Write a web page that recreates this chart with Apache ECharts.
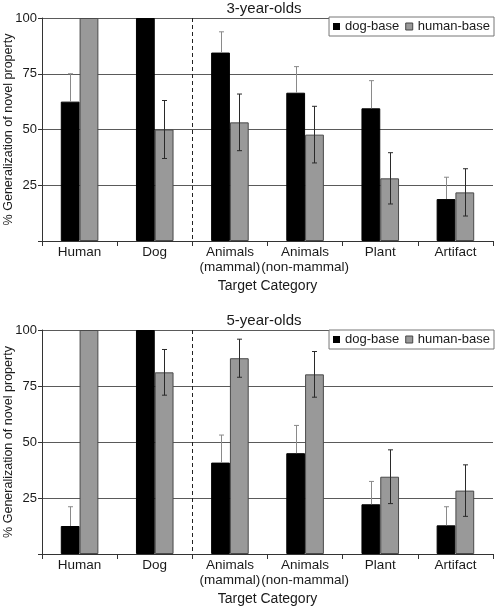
<!DOCTYPE html>
<html>
<head>
<meta charset="utf-8">
<script src="https://cdn.jsdelivr.net/npm/echarts@6/dist/echarts.min.js"></script>
<style>
html,body{margin:0;padding:0;background:#fff;}
#chart{width:496px;height:610px;}
</style>
</head>
<body>
<div id="chart"></div>
<script>
const categories = ['Human', 'Dog', 'Animals\n(mammal)', 'Animals\n(non-mammal)', 'Plant', 'Artifact'];
const panelTitles = ['3-year-olds', '5-year-olds'];
const seriesNames = ['dog-base', 'human-base'];
const yTicks = [0, 25, 50, 75, 100];
const dividerAfter = 1; // boundary after "Dog"

const dog3 = [62.5, 100, 84.5, 66.5, 59.5, 18.8];
const dog3Err = [12.5, 0, 9.3, 11.7, 12.4, 9.8];
const human3 = [100, 50, 53.2, 47.7, 28.1, 21.8];
const human3Err = [0, 13, 12.7, 12.7, 11.5, 10.6];

const dog5 = [12.5, 100, 40.8, 45, 22.2, 12.8];
const dog5Err = [8.6, 0, 12.3, 12.4, 10.2, 8.3];
const human5 = [100, 81.1, 87.4, 80.2, 34.5, 28.3];
const human5Err = [0, 10.2, 8.5, 10.2, 12, 11.5];

const panels = [
  {dog: dog3, dogErr: dog3Err, human: human3, humanErr: human3Err},
  {dog: dog5, dogErr: dog5Err, human: human5, humanErr: human5Err}
];

const chart = echarts.init(document.getElementById('chart'), null, {renderer: 'canvas'});
const FONT = 'Liberation Sans, Arial, sans-serif';
const TXT = '#1a1a1a';

const grids = [
  {left: 42, right: 3, top: 18, height: 223, containLabel: false, outerBoundsMode: 'none'},
  {left: 42, right: 3, top: 330, height: 224, containLabel: false, outerBoundsMode: 'none'}
];

const xAxes = [], yAxes = [], series = [], titles = [], legends = [];

function errRender(side, color, upOnly) {
  return function (params, api) {
    const ci = api.value(0), v = api.value(1), e = api.value(2);
    if (!e) return null;
    const band = api.size([1, 0])[0];
    const off = side * band * 0.125;
    const top = api.coord([ci, v + e]);
    const bot = api.coord([ci, upOnly ? v : v - e]);
    const x = Math.round(top[0] + off) + 0.5;
    const cap = 2.5;
    const children = [
      {type: 'line', shape: {x1: x, y1: top[1], x2: x, y2: bot[1]}, style: {stroke: color, lineWidth: 1}},
      {type: 'line', shape: {x1: x - cap, y1: top[1], x2: x + cap, y2: top[1]}, style: {stroke: color, lineWidth: 1}}
    ];
    if (!upOnly) {
      children.push({type: 'line', shape: {x1: x - cap, y1: bot[1], x2: x + cap, y2: bot[1]}, style: {stroke: color, lineWidth: 1}});
    }
    return {type: 'group', children: children};
  };
}

panels.forEach((p, k) => {
  xAxes.push({
    type: 'category', gridIndex: k, data: categories,
    boundaryGap: true,
    axisLine: {show: true, lineStyle: {color: '#333', width: 1}},
    axisTick: {show: true, length: 5, lineStyle: {color: '#333'}},
    axisLabel: {color: TXT, fontSize: 13.5, fontFamily: FONT, interval: 0, margin: 4, lineHeight: 15},
    name: 'Target Category', nameLocation: 'middle', nameGap: 38, nameMoveOverlap: false,
    nameTextStyle: {color: TXT, fontSize: 14, fontFamily: FONT},
    splitLine: {show: false}
  });
  yAxes.push({
    type: 'value', gridIndex: k, min: yTicks[0], max: yTicks[yTicks.length - 1], interval: 25,
    axisLine: {show: true, lineStyle: {color: '#333', width: 1}},
    axisTick: {show: true, length: 4, lineStyle: {color: '#333'}},
    axisLabel: {color: TXT, fontSize: 13, fontFamily: FONT, margin: 5,
      formatter: v => (v === 0 ? '' : String(v))},
    splitLine: {show: true, lineStyle: {color: '#5a5a5a', width: 1}},
    name: '% Generalization of novel property', nameLocation: 'middle', nameGap: 27, nameMoveOverlap: false,
    nameTextStyle: {color: TXT, fontSize: 12.5, fontFamily: FONT}
  });
  titles.push({
    text: panelTitles[k], left: 264, top: k === 0 ? 1 : 313, textAlign: 'center', padding: 0,
    textStyle: {color: TXT, fontSize: 15, fontWeight: 'normal', fontFamily: FONT}
  });
  legends.push({
    data: [
      {name: seriesNames[0], itemStyle: {color: '#000', borderColor: '#000', borderWidth: 0}},
      {name: seriesNames[1], itemStyle: {color: '#999', borderColor: '#444', borderWidth: 1}}
    ],
    right: 2, top: k === 0 ? 17 : 330,
    orient: 'horizontal', icon: 'rect', itemWidth: 7, itemHeight: 7, itemGap: 6,
    padding: [3, 4, 3, 4], borderColor: '#777', borderWidth: 1, backgroundColor: '#fff',
    textStyle: {color: TXT, fontSize: 13, fontFamily: FONT},
    selectedMode: false
  });
  series.push({
    name: seriesNames[0], type: 'bar', xAxisIndex: k, yAxisIndex: k,
    data: p.dog, barGap: '0%', barCategoryGap: '50%',
    itemStyle: {color: '#000', borderColor: '#000', borderWidth: 1},
    z: 3
  });
  series.push({
    name: seriesNames[1], type: 'bar', xAxisIndex: k, yAxisIndex: k,
    data: p.human, barGap: '0%', barCategoryGap: '50%',
    itemStyle: {color: '#999', borderColor: '#4a4a4a', borderWidth: 1},
    z: 3
  });
  series.push({
    type: 'custom', xAxisIndex: k, yAxisIndex: k, z: 4, silent: true,
    data: p.dog.map((v, i) => [i, v, p.dogErr[i]]),
    encode: {x: 0, y: 1},
    renderItem: errRender(-1, '#8a8a8a', true)
  });
  series.push({
    type: 'custom', xAxisIndex: k, yAxisIndex: k, z: 4, silent: true,
    data: p.human.map((v, i) => [i, v, p.humanErr[i]]),
    encode: {x: 0, y: 1},
    renderItem: errRender(1, '#2a2a2a', false)
  });
  series.push({
    type: 'custom', xAxisIndex: k, yAxisIndex: k, z: 2, silent: true,
    data: [[dividerAfter, yTicks[yTicks.length - 1]]],
    encode: {x: 0, y: 1},
    renderItem: function (params, api) {
      const ci = api.value(0);
      const half = api.size([1, 0])[0] / 2;
      const t = api.coord([ci, yTicks[yTicks.length - 1]]);
      const b = api.coord([ci, yTicks[0]]);
      const x = Math.round(t[0] + half) + 0.5;
      return {type: 'line', shape: {x1: x, y1: t[1], x2: x, y2: b[1]},
        style: {stroke: '#222', lineWidth: 1, lineDash: [4, 3]}};
    }
  });
});

chart.setOption({
  animation: false,
  backgroundColor: '#fff',
  title: titles,
  legend: legends,
  grid: grids,
  xAxis: xAxes,
  yAxis: yAxes,
  series: series
});
</script>
</body>
</html>
